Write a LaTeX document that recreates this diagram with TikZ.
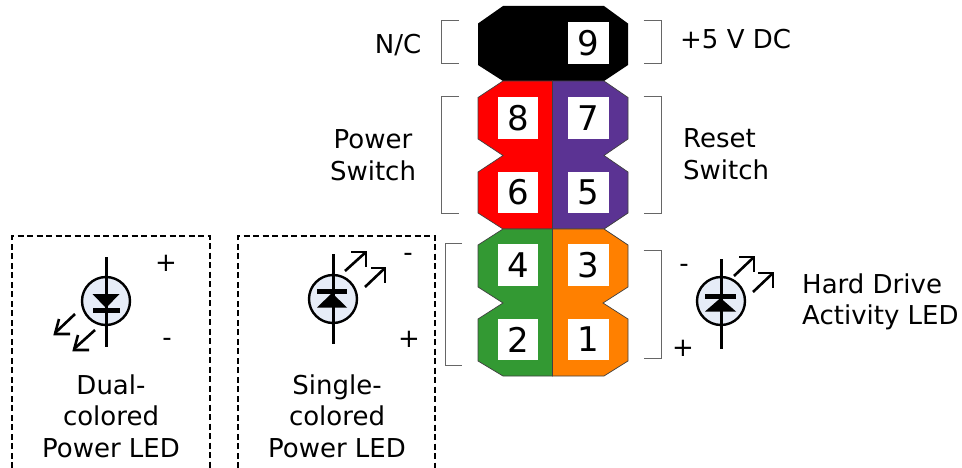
\documentclass[tikz,border=0pt]{standalone}
\usepackage{fontspec}
\setmainfont{DejaVu Sans}
\definecolor{hdrred}{HTML}{FF0000}
\definecolor{hdrpurple}{HTML}{5B3393}
\definecolor{hdrgreen}{HTML}{339933}
\definecolor{hdrorange}{HTML}{FF8000}
\definecolor{ledfill}{HTML}{E6ECF7}
\definecolor{brk}{HTML}{666666}
\tikzset{
  pin/.style={draw=none,fill=white,inner sep=0pt,minimum width=40.5pt,minimum height=41.5pt,font=\fontsize{34}{34}\selectfont,text=black},
  lbl/.style={inner sep=0pt,font=\fontsize{26}{31.5}\selectfont,text=black},
  sign/.style={inner sep=0pt,font=\fontsize{26}{26}\selectfont,text=black},
  part/.style={draw=black!75,line width=0.7pt},
  bracket/.style={draw=brk,line width=1pt},
  dashbox/.style={draw=black,line width=1.4pt,dash pattern=on 6pt off 3.5pt},
  wire/.style={draw=black,line width=3pt},
  glow/.style={draw=black,line width=2.6pt},
  ledbody/.style={draw=black,fill=ledfill,line width=2.4pt}
}
\newcommand{\ledwire}[3]{% x, y top, y bottom
  \draw[wire] (#1,#2) -- (#1,#3);}
\begin{document}
\begin{tikzpicture}[x=1pt,y=-1pt]
\useasboundingbox (0,0) rectangle (962,468);
% header
\fill[black] (503,6)--(604,6)--(628,23.5)--(628,65)--(604,81)--(503,81)--(478,65)--(478,23.5)--cycle;
\filldraw[part,fill=hdrred] (503,81)--(552.5,81)--(552.5,229)--(503,229)--(478,213)--(478,172)--(503,155.5)--(478,139)--(478,97.5)--cycle;
\filldraw[part,fill=hdrpurple] (552.5,81)--(604,81)--(628,97.5)--(628,139)--(604,155.5)--(628,172)--(628,213)--(604,229)--(552.5,229)--cycle;
\filldraw[part,fill=hdrgreen] (503,229)--(552.5,229)--(552.5,376)--(503,376)--(478,361)--(478,319)--(503,303)--(478,287)--(478,245)--cycle;
\filldraw[part,fill=hdrorange] (552.5,229)--(604,229)--(628,245)--(628,287)--(603,303)--(628,319)--(628,361)--(604,376)--(552.5,376)--cycle;
\node[pin] (p9) at (588.5,43) {9};
\node[pin] (p8) at (518,118) {8};
\node[pin] (p7) at (588.5,118) {7};
\node[pin] (p6) at (518,192.5) {6};
\node[pin] (p5) at (588.5,192.5) {5};
\node[pin] (p4) at (518,265) {4};
\node[pin] (p3) at (588.5,265) {3};
\node[pin] (p2) at (518,339.5) {2};
\node[pin] (p1) at (588.5,339.5) {1};
% brackets
\draw[bracket] (459,20.5)-|(441,63.5)--(459,63.5);
\draw[bracket] (643.5,20.5)-|(661,63.5)--(643.5,63.5);
\draw[bracket] (459,97)-|(441,214)--(459,214);
\draw[bracket] (643.5,97)-|(661,214)--(643.5,214);
\draw[bracket] (462,243.5)-|(445,365)--(462,365);
\draw[bracket] (643.5,250)-|(661,358)--(643.5,358);
% dashed boxes
\draw[dashbox] (12,468)--(12,236)--(210,236)--(210,468);
\draw[dashbox] (238,468)--(238,236)--(435,236)--(435,468);
% LED 1 (dual)
\ledwire{106}{257}{347}
\filldraw[ledbody] (106,301) circle (24);
\draw[wire] (106,277)--(106,325);
\fill[black] (92.5,294)--(119.5,294)--(106,308)--cycle;
\draw[line width=5pt] (93,310)--(120,310);
\draw[glow] (75,314)--(55,333);
\draw[glow] (59,319)--(55,334)--(70,334);
\draw[glow] (95,330)--(74,349);
\draw[glow] (78,335)--(74,350)--(89,350);
% LED 2 (single)
\ledwire{333}{254}{344}
\filldraw[ledbody] (333,299) circle (24);
\draw[wire] (333,275)--(333,323);
\draw[line width=5pt] (317,291)--(347,291);
\fill[black] (317,307.5)--(347,307.5)--(332,293)--cycle;
\draw[glow] (345,271)--(366,252);
\draw[glow] (351,252)--(366,252)--(366,267);
\draw[glow] (365,287)--(385,268);
\draw[glow] (371,268)--(385,268)--(385,283);
% LED 3 (hard drive)
\ledwire{721}{259}{349}
\filldraw[ledbody] (721,301) circle (24);
\draw[wire] (721,277)--(721,325);
\draw[line width=5pt] (705,296)--(736,296);
\fill[black] (705,311.5)--(736,311.5)--(720.5,298)--cycle;
\draw[glow] (734,276)--(754,257);
\draw[glow] (739,257)--(754,257)--(754,272);
\draw[glow] (753,292)--(773,273);
\draw[glow] (758,273)--(773,273)--(773,288);
% labels
\node[lbl] (nc) at (398,45) {N/C};
\node[lbl,anchor=west] (vdc) at (680,39) {+5 V DC};
\node[lbl,align=center] (pwr) at (373,155) {Power\\Switch};
\node[lbl,align=left,anchor=west] (rst) at (683,154) {Reset\\Switch};
\node[lbl,align=left,anchor=west] (hdd) at (802,302) {Hard Drive\\Activity LED};
\node[lbl,align=center] (dual) at (111,416) {Dual-\\colored\\Power LED};
\node[lbl,align=center] (single) at (337,416) {Single-\\colored\\Power LED};
\node[sign] (s1) at (166,263) {+};
\node[sign] (s2) at (167,342) {-};
\node[sign] (s3) at (408,257) {-};
\node[sign] (s4) at (409,339) {+};
\node[sign] (s5) at (684,268) {-};
\node[sign] (s6) at (683,348) {+};
\end{tikzpicture}
\end{document}
